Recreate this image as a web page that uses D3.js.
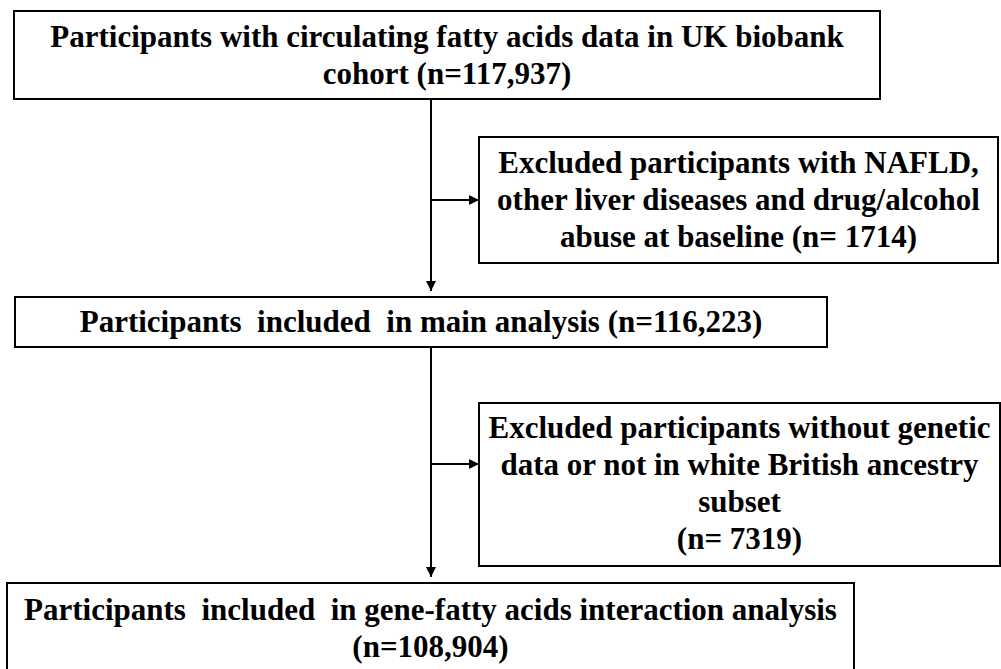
<!DOCTYPE html>
<html>
<head>
<meta charset="utf-8">
<script src="https://cdn.jsdelivr.net/npm/d3@7"></script>
<style>
  html, body { margin: 0; padding: 0; background: #fff; }
  svg { display: block; }
</style>
</head>
<body>
<div id="chart"></div>
<script>
// flowchart text
const stepLabels = [
  ["Participants with circulating fatty acids data in UK biobank", "cohort (n=117,937)"],
  ["Participants  included  in main analysis (n=116,223)"],
  ["Participants  included  in gene-fatty acids interaction analysis", "(n=108,904)"]
];
const exclusionLabels = [
  ["Excluded participants with NAFLD,", "other liver diseases and drug/alcohol", "abuse at baseline (n= 1714)"],
  ["Excluded participants without genetic", "data or not in white British ancestry", "subset", "(n= 7319)"]
];

const width = 1001, height = 669;
const lineH = 37;
const fontSize = 31;

// box geometry (layout only)
const stepBoxes = [
  { x0: 14, x1: 880, y0: 11, y1: 99, base: 47 },
  { x0: 15, x1: 827, y0: 297, y1: 347, base: 332 },
  { x0: 7, x1: 854, y0: 583, y1: 680, base: 620 }
];
const exclBoxes = [
  { x0: 479, x1: 998, y0: 137, y1: 263, base: 173, arrowY: 200 },
  { x0: 479, x1: 1000, y0: 403, y1: 566, base: 438, arrowY: 464 }
];
const spineX = 431;

const svg = d3.select("#chart").append("svg")
  .attr("width", width)
  .attr("height", height);

svg.append("defs").append("marker")
  .attr("id", "arrow")
  .attr("viewBox", "0 0 10 10")
  .attr("refX", 10).attr("refY", 5)
  .attr("markerWidth", 10).attr("markerHeight", 10)
  .attr("markerUnits", "userSpaceOnUse")
  .attr("orient", "auto")
  .append("path")
  .attr("d", "M0,0L10,5L0,10Z")
  .attr("fill", "#000");

function drawBox(b, lines) {
  const g = svg.append("g");
  g.append("rect")
    .attr("x", b.x0).attr("y", b.y0)
    .attr("width", b.x1 - b.x0).attr("height", b.y1 - b.y0)
    .attr("fill", "#fff")
    .attr("stroke", "#000")
    .attr("stroke-width", 2);
  g.selectAll("text")
    .data(lines)
    .join("text")
    .attr("x", (b.x0 + b.x1) / 2)
    .attr("y", (d, i) => b.base + i * lineH)
    .attr("text-anchor", "middle")
    .attr("font-family", "'Liberation Serif', 'Times New Roman', Times, serif")
    .attr("font-weight", "bold")
    .attr("font-size", fontSize)
    .attr("fill", "#000")
    .style("white-space", "pre")
    .text(d => d);
}

// spine arrows between step boxes, then side arrows to exclusions
const arrows = svg.append("g")
  .attr("stroke", "#000")
  .attr("stroke-width", 2);

for (let i = 0; i < stepBoxes.length - 1; i++) {
  arrows.append("line")
    .attr("x1", spineX).attr("x2", spineX)
    .attr("y1", stepBoxes[i].y1)
    .attr("y2", stepBoxes[i + 1].y0 - 6)
    .attr("marker-end", "url(#arrow)");
}
exclBoxes.forEach(b => {
  arrows.append("line")
    .attr("x1", spineX).attr("x2", b.x0)
    .attr("y1", b.arrowY).attr("y2", b.arrowY)
    .attr("marker-end", "url(#arrow)");
});

stepBoxes.forEach((b, i) => drawBox(b, stepLabels[i]));
exclBoxes.forEach((b, i) => drawBox(b, exclusionLabels[i]));
</script>
</body>
</html>
